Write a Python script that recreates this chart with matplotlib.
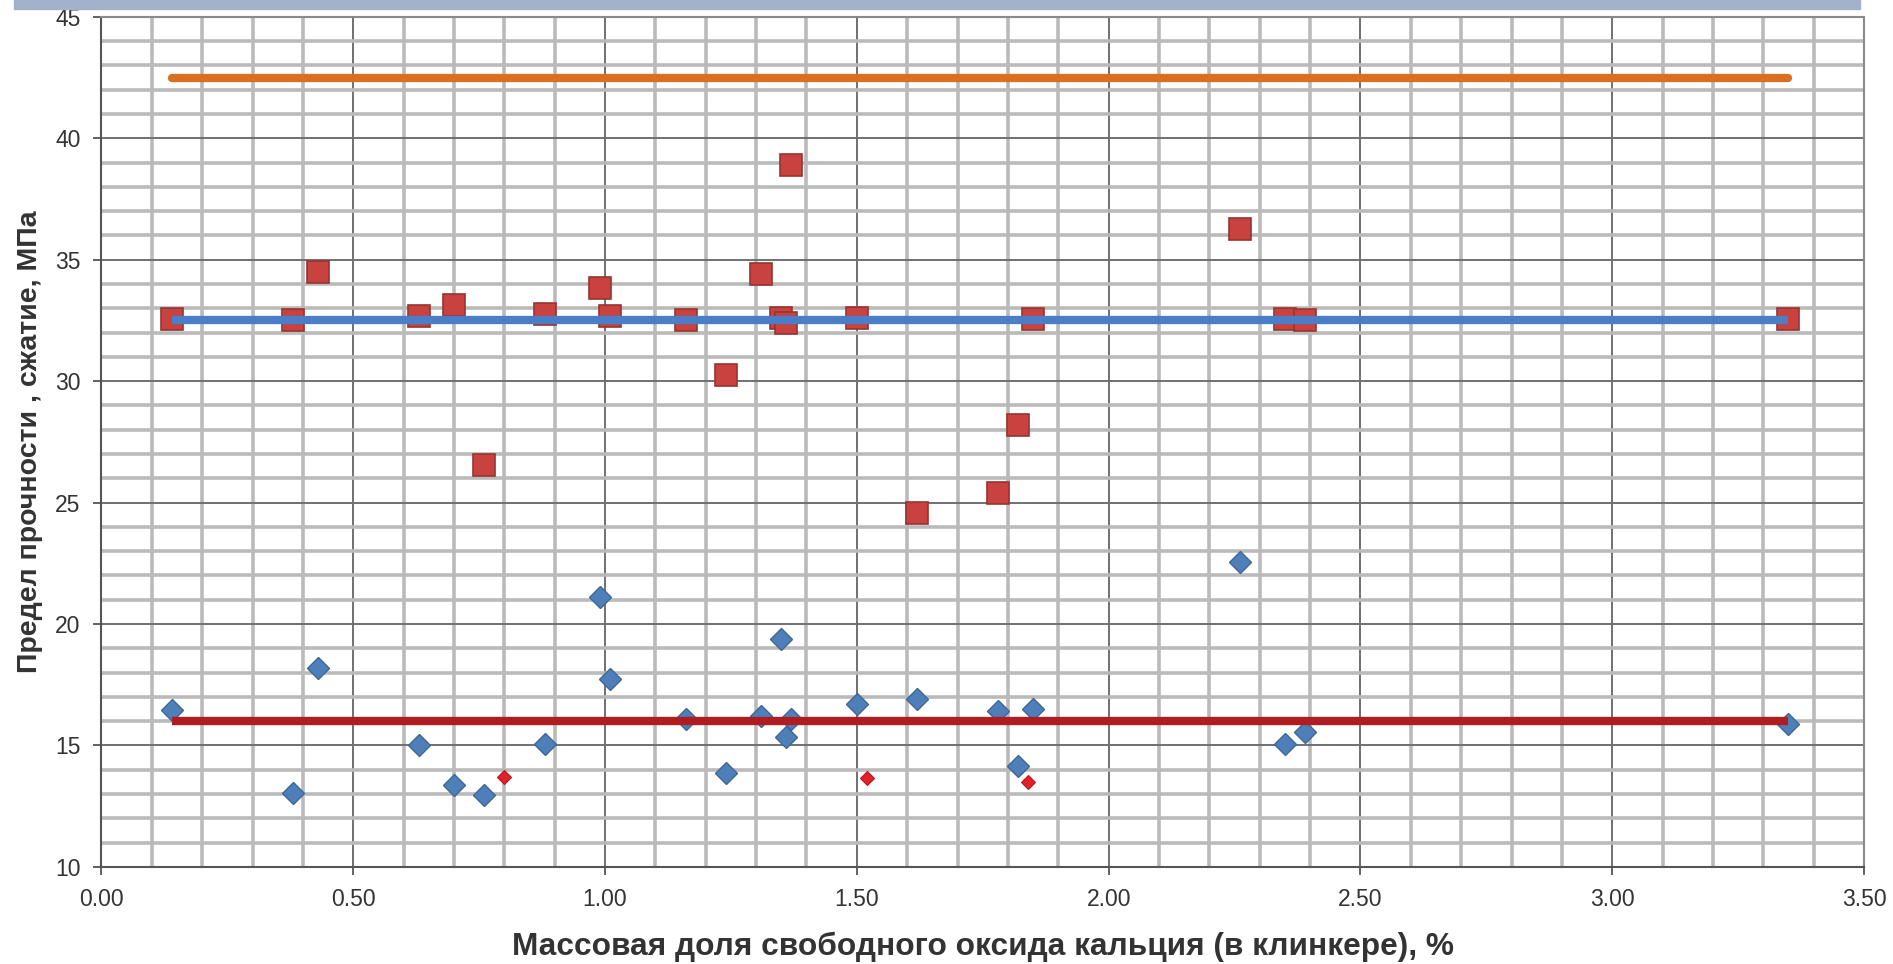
import matplotlib.pyplot as plt
from matplotlib.ticker import MultipleLocator, FormatStrFormatter
from matplotlib.patches import Rectangle

# free CaO in clinker, %
cao = [0.14, 0.38, 0.43, 0.63, 0.70, 0.76, 0.88, 0.99, 1.01, 1.16, 1.24, 1.31,
       1.35, 1.36, 1.37, 1.50, 1.62, 1.78, 1.82, 1.85, 2.26, 2.35, 2.39, 3.35]
# compressive strength, MPa
strength_28 = [32.55, 32.5, 34.5, 32.7, 33.15, 26.55, 32.75, 33.85, 32.7, 32.5, 30.25, 34.4,
               32.6, 32.4, 38.9, 32.6, 24.55, 25.4, 28.2, 32.55, 36.25, 32.55, 32.5, 32.55]
strength_2 = [16.45, 13.05, 18.2, 15.0, 13.35, 12.95, 15.05, 21.1, 17.75, 16.1, 13.85, 16.2,
              19.4, 15.35, 16.1, 16.7, 16.9, 16.4, 14.15, 16.5, 22.55, 15.05, 15.55, 15.9]
low_cao = [0.80, 1.52, 1.84]
low_strength = [13.7, 13.65, 13.5]

# reference levels
line_x = [0.14, 3.35]
level_top = [42.5, 42.5]
level_28 = [32.5, 32.5]
level_2 = [16.0, 16.0]

plt.rcParams['font.family'] = ['Liberation Sans', 'DejaVu Sans']

fig = plt.figure(figsize=(18.93, 9.64), dpi=100)
ax = fig.add_axes([0.0536, 0.1008, 0.9311, 0.8817])

# header strip cut off at the top
fig.patches.append(Rectangle((14 / 1893, 1 - 9 / 964), 1846 / 1893, 9 / 964,
                             transform=fig.transFigure, color='#a3b2cb', zorder=0))

ax.plot(cao, strength_28, 's', ms=16, color='#c8433f', mec='#963532', mew=1.2, zorder=3)
ax.plot(cao, strength_2, 'D', ms=11.5, color='#4f7fb8', mec='#3f6796', mew=1.0, zorder=3)
ax.plot(low_cao, low_strength, 'D', ms=7, color='#e0202a', mec='#b81820', mew=0.8, zorder=3)

ax.plot(line_x, level_top, color='#d9701f', lw=6, solid_capstyle='round', zorder=4)
ax.plot(line_x, level_28, color='#4a7ec8', lw=6, solid_capstyle='butt', zorder=4)
ax.plot(line_x, level_2, color='#b01c22', lw=6, solid_capstyle='butt', zorder=4)

ax.set_xlim(0, 3.5)
ax.set_ylim(10, 45)
ax.xaxis.set_major_locator(MultipleLocator(0.5))
ax.xaxis.set_minor_locator(MultipleLocator(0.1))
ax.yaxis.set_major_locator(MultipleLocator(5))
ax.yaxis.set_minor_locator(MultipleLocator(1))
ax.xaxis.set_major_formatter(FormatStrFormatter('%.2f'))

ax.grid(which='minor', color='#bababa', lw=2.6, zorder=0)
ax.grid(which='major', color='#707070', lw=1.4, zorder=1)
ax.set_axisbelow(True)

for s in ax.spines.values():
    s.set_color('#8a8a8a')
    s.set_linewidth(1.5)
ax.spines['left'].set_color('#555555')
ax.spines['bottom'].set_color('#555555')

ax.tick_params(which='major', length=6, width=1.3, color='#555555',
               labelsize=16.5, labelcolor='#333333', pad=9)
ax.tick_params(which='minor', length=0)

ax.set_xlabel('Массовая доля свободного оксида кальция (в клинкере), %',
              fontsize=22.8, fontweight='bold', color='#333333', labelpad=15)
ax.set_ylabel('Предел прочности , сжатие, МПа', fontsize=20.5, fontweight='bold',
              color='#333333', labelpad=9)

fig.savefig('out.png', dpi=100, facecolor='white')
